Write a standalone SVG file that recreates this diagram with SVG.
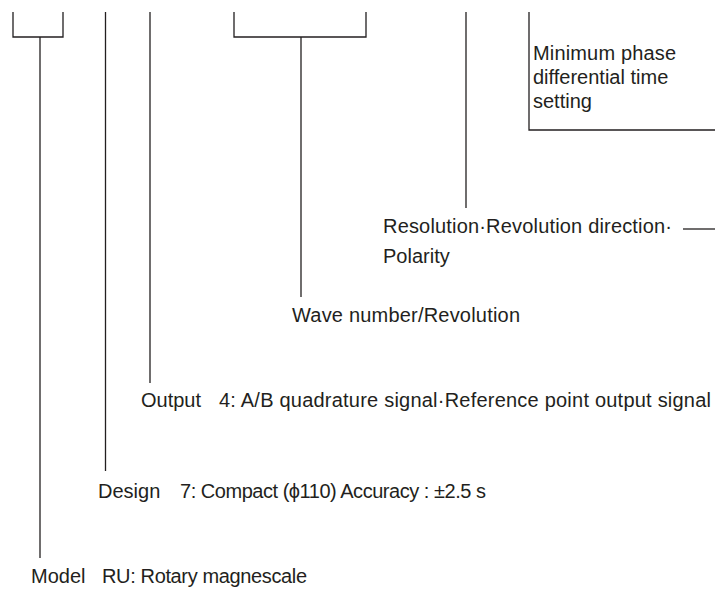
<svg xmlns="http://www.w3.org/2000/svg" width="715" height="596" viewBox="0 0 715 596">
  <style>
    .ln { fill: none; stroke: #231f20; stroke-width: 1.3; }
    .t { font-family: "Liberation Sans", Arial, sans-serif; font-size: 20px; fill: #231f20; }
  </style>
  <rect width="715" height="596" fill="#ffffff"/>
  <g id="connectors">
    <path class="ln" d="M13,12 V37 H63 V12"/>
    <path class="ln" d="M40,37 V558"/>
    <path class="ln" d="M105.5,12 V471"/>
    <path class="ln" d="M150,12 V383"/>
    <path class="ln" d="M234,12 V37 H366 V12"/>
    <path class="ln" d="M301,37 V297"/>
    <path class="ln" d="M466,12 V208"/>
    <path class="ln" d="M529,12 V130 H715"/>
    <path class="ln" d="M683,229 H715"/>
  </g>
  <g id="node-min-phase">
    <text class="t" x="533" y="60" textLength="143">Minimum phase</text>
    <text class="t" x="533" y="84">differential time</text>
    <text class="t" x="533" y="108">setting</text>
  </g>
  <g id="node-resolution">
    <text class="t" x="383" y="233" textLength="289">Resolution·Revolution direction·</text>
    <text class="t" x="383" y="263">Polarity</text>
  </g>
  <g id="node-wave">
    <text class="t" x="292" y="322" textLength="228">Wave number/Revolution</text>
  </g>
  <g id="node-output">
    <text class="t" x="141" y="407">Output</text>
    <text class="t" x="219" y="407" textLength="492">4: A/B quadrature signal·Reference point output signal</text>
  </g>
  <g id="node-design">
    <text class="t" x="98" y="498">Design</text>
    <text class="t" x="180" y="498" textLength="306">7: Compact (ϕ110) Accuracy : ±2.5 s</text>
  </g>
  <g id="node-model">
    <text class="t" x="31" y="583">Model</text>
    <text class="t" x="102" y="583" textLength="205">RU: Rotary magnescale</text>
  </g>
</svg>
